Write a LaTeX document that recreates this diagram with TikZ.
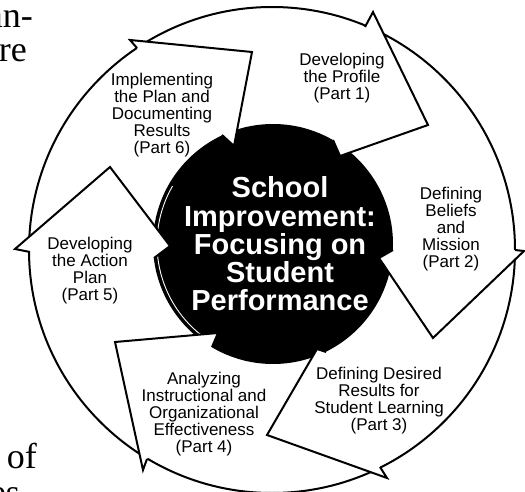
\documentclass[tikz,border=0pt]{standalone}
\usepackage{fontspec}
\newfontfamily\sansf{Liberation Sans}
\newfontfamily\seriff{Liberation Serif}
\begin{document}
\begin{tikzpicture}[x=1pt,y=-1pt,
  band/.style={line width=2pt, draw=black, fill=white, line join=miter, miter limit=10},
  lbl/.style={font=\sansf\fontsize{17}{17}\selectfont, align=center, inner sep=0pt},
  ctext/.style={font=\sansf\bfseries\fontsize{29}{28.2}\selectfont, align=center, text=white, inner sep=0pt},
  margintext/.style={font=\seriff\fontsize{36}{36}\selectfont, inner sep=0pt, anchor=base east}]
\useasboundingbox (0,0) rectangle (525,492);
% ring
\filldraw[band] (272,250) circle[radius=243pt];
% centre disc
\fill[black] (273,244) circle[radius=120pt];
\draw[white, line width=0.9pt] (273,244) ++(150:116pt) arc[start angle=150, end angle=235, radius=116pt];
% arrow heads (outer start, outer barb, tip, inner barb, inner end)
\coordinate (S1) at (365,27);  \coordinate (B1) at (373,12);  \coordinate (T1) at (428,125); \coordinate (I1) at (340,156); \coordinate (E1) at (333,140);
\coordinate (S2) at (515,250); \coordinate (B2) at (524,251); \coordinate (T2) at (433,338); \coordinate (I2) at (379,258); \coordinate (E2) at (393,250);
\coordinate (S3) at (380,467); \coordinate (B3) at (387,478); \coordinate (T3) at (267,435); \coordinate (I3) at (317,349); \coordinate (E3) at (326,352);
\coordinate (S4) at (147,459); \coordinate (B4) at (143,470); \coordinate (T4) at (115,342); \coordinate (I4) at (218,333); \coordinate (E4) at (212,347);
\coordinate (S5) at (30,252);  \coordinate (B5) at (15,249);  \coordinate (T5) at (110,167); \coordinate (I5) at (170,246); \coordinate (E5) at (154,258);
\coordinate (S6) at (137,48);  \coordinate (B6) at (130,40);  \coordinate (T6) at (252,52);  \coordinate (I6) at (234,146); \coordinate (E6) at (222,135);
\foreach \k in {1,...,6}{
  \filldraw[band] (S\k) -- (B\k) -- (T\k) -- (I\k) -- (E\k);
}
% labels
\node[lbl] (l1) at (342,78.6) {Developing\\the Profile\\(Part 1)};
\node[lbl] (l2) at (451,229) {Defining\\Beliefs\\and\\Mission\\(Part 2)};
\node[lbl] (l3) at (379,400.6) {Defining Desired\\Results for\\Student Learning\\(Part 3)};
\node[lbl] (l4) at (204,414) {Analyzing\\Instructional and\\Organizational\\Effectiveness\\(Part 4)};
\node[lbl] (l5) at (90,271) {Developing\\the Action\\Plan\\(Part 5)};
\node[lbl] (l6) at (162,115.6) {Implementing\\the Plan and\\Documenting\\Results\\(Part 6)};
\node[ctext] (c) at (280,244) {School\\Improvement:\\Focusing on\\Student\\Performance};
% page text fragments
\node[margintext] (m1) at (33,28) {an-};
\node[margintext] (m2) at (27,62) {ure};
\node[margintext] (m3) at (37,468) {n of};
\node[margintext] (m4) at (20,504) {es};
\end{tikzpicture}
\end{document}
